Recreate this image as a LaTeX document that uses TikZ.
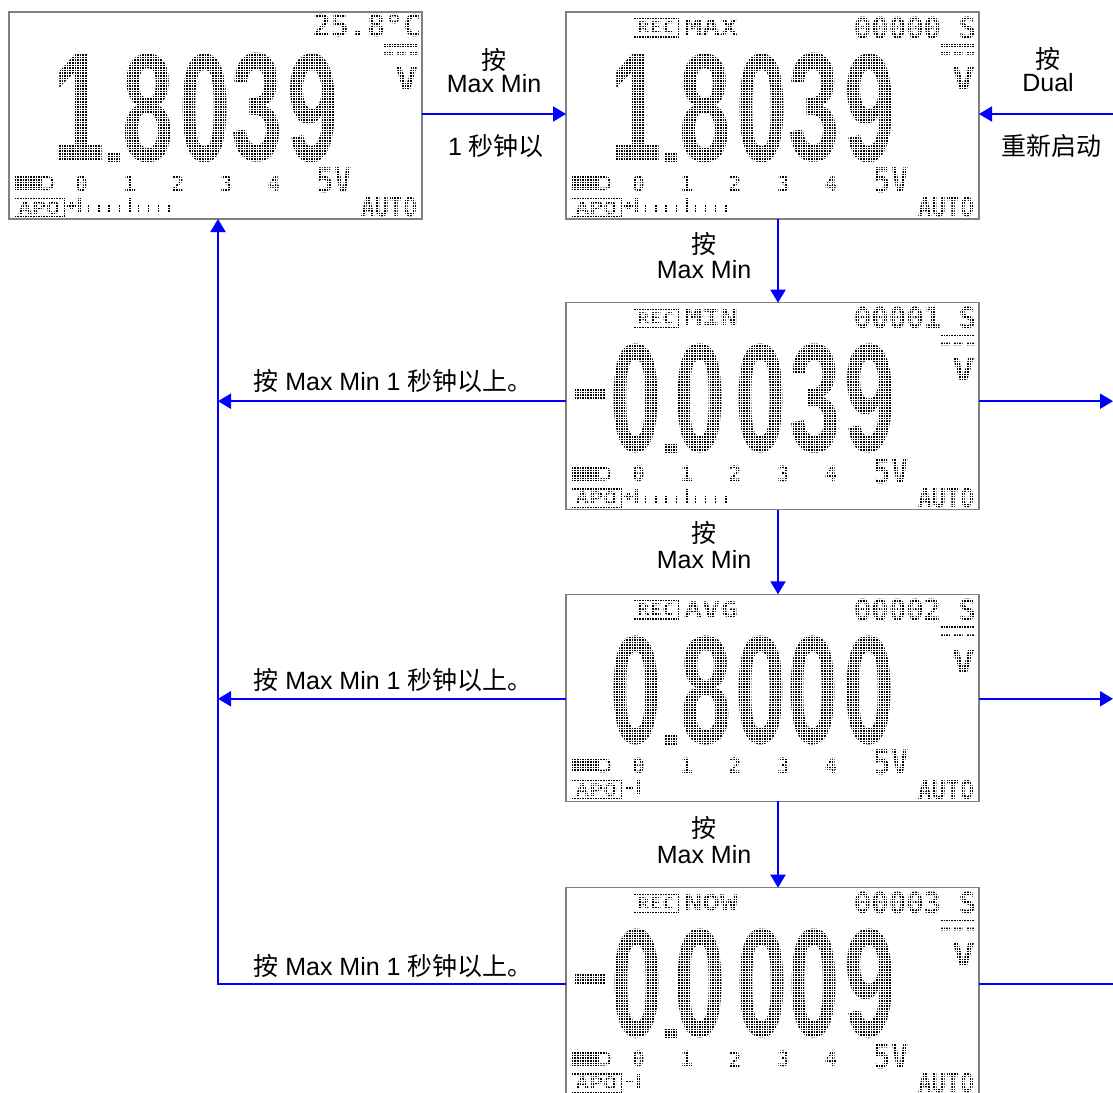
\documentclass[tikz,border=0pt]{standalone}
\usepackage{fontspec}
\usepackage{graphicx}
\setmainfont{Liberation Sans}
\newfontfamily\cjk{Noto Sans CJK SC}
\newfontfamily\lcdfont{DejaVu Sans Mono}
\newfontfamily\digfont{Liberation Sans}
\usetikzlibrary{arrows.meta}
\definecolor{arrowblue}{RGB}{0,0,255}
\definecolor{lcdborder}{RGB}{128,128,128}
\definecolor{dotc}{RGB}{0,0,0}
\tikzset{
  screen/.style={draw=lcdborder, line width=1.5pt, minimum width=413pt, minimum height=207pt,
    anchor=north west, inner sep=0pt, outer sep=0pt},
  arr/.style={draw=arrowblue, line width=2pt, -{Triangle[length=13pt,width=15pt]}},
  plainline/.style={draw=arrowblue, line width=2pt},
  lab/.style={inner sep=0pt, outer sep=0pt, font=\fontsize{25}{30}\selectfont},
  lcdtext/.style={inner sep=0pt, outer sep=0pt, text=dotc},
}
\newcounter{tn}
\newcommand\lcdt[3]{\stepcounter{tn}\node[lcdtext] (t\arabic{tn}) at (#1,#2) {#3};}
\newcommand\bigd[2]{\lcdt{#1}{96}{\digfont\bfseries\fontsize{100}{100}\selectfont\scalebox{0.92}[1.54]{#2}}}
\newcommand\lcdcommon{%
  \fill[dotc] (375,32) rectangle (409,34.6);
  \fill[dotc] (375,40) rectangle (384,42.6) (387.5,40) rectangle (396.5,42.6) (400,40) rectangle (409,42.6);
  \lcdt{397.5}{66.5}{\lcdfont\bfseries\fontsize{31}{31}\selectfont\scalebox{1.25}[1]{V}}
  \fill[dotc] (5,164) rectangle (33,178);
  \draw[dotc, line width=2.4pt, rounded corners=5pt] (33,165.2) -- (44,165.2) -- (44,176.8) -- (33,176.8);
  \lcdt{72.5}{171.5}{\lcdfont\bfseries\fontsize{21}{21}\selectfont 0}
  \lcdt{121}{171.5}{\lcdfont\bfseries\fontsize{21}{21}\selectfont 1}
  \lcdt{169}{171.5}{\lcdfont\bfseries\fontsize{21}{21}\selectfont 2}
  \lcdt{217.5}{171.5}{\lcdfont\bfseries\fontsize{21}{21}\selectfont 3}
  \lcdt{265}{171.5}{\lcdfont\bfseries\fontsize{21}{21}\selectfont 4}
  \lcdt{325}{168.5}{\lcdfont\bfseries\fontsize{34}{34}\selectfont\scalebox{0.85}[1]{5V}}
  \draw[dotc, line width=1.8pt] (5.5,186.5) rectangle (55,205);
  \lcdt{30.25}{195.75}{\resizebox{42pt}{13pt}{\lcdfont\bfseries APO}}
  \lcdt{380}{195.5}{\lcdfont\bfseries\fontsize{26}{26}\selectfont\scalebox{0.9}[1]{AUTO}}
}
\newcommand\lcdbarlong{%
  \fill[dotc] (58,192.5) rectangle (67,195);
  \fill[dotc] (61.3,189) rectangle (63.7,198);
  \fill[dotc] (69,186) rectangle (71.5,200);
  \fill[dotc] (120,186) rectangle (122.5,200);
  \foreach \tx in {80,90,100,110,130,140,150,160}{\fill[dotc] (\tx-1.2,193) rectangle (\tx+1.2,200);}
}
\newcommand\lcdbarshort{%
  \fill[dotc] (59,193) rectangle (67,195.5);
  \fill[dotc] (71,186) rectangle (73.5,201);
}
\newcommand\lcdmode[1]{%
  \draw[dotc, line width=1.8pt] (67.5,6) rectangle (112,25);
  \lcdt{89.75}{15.5}{\resizebox{38pt}{12pt}{\lcdfont\bfseries REC}}
  \lcdt{145}{15}{\resizebox{54pt}{16pt}{\lcdfont\bfseries #1}}
}
\newcommand\lcdcount[1]{\lcdt{349}{15.5}{\lcdfont\bfseries\fontsize{29}{29}\selectfont #1}}
\newcommand\lcddot{\fill[dotc] (99,140) rectangle (111,151);}
\newcommand\lcdminus{\fill[dotc] (9,85) rectangle (40,96);}
\newcommand\lcdgrid{%
  \begin{scope}
    \clip (1.5,1.5) rectangle (411.5,205.5);
    \draw[white, line width=0.65pt, step=2.6pt] (0,0) grid (413,207);
  \end{scope}
}
\begin{document}
\begin{tikzpicture}[x=1pt,y=-1pt]
\useasboundingbox (0,0) rectangle (1113,1092);
\clip (0,0) rectangle (1113,1092);
\fill[white] (0,0) rectangle (1113,1092);

% screens
\node[screen] (s1) at (9,12) {};
\node[screen] (s2) at (566,12) {};
\node[screen] (s3) at (566,302.7) {};
\node[screen] (s4) at (566,594.3) {};
\node[screen] (s5) at (566,887.7) {};

\begin{scope}[shift={(s1.north west)}]
  \lcdcommon \lcdbarlong
  \lcdt{358}{14}{\lcdfont\bfseries\fontsize{30}{30}\selectfont 25.8°C}
  \bigd{70}{1} \lcddot \bigd{139.5}{8} \bigd{196}{0} \bigd{248.5}{3} \bigd{304}{9}
  \lcdgrid
\end{scope}
\begin{scope}[shift={(s2.north west)}]
  \lcdcommon \lcdbarlong \lcdmode{MAX} \lcdcount{00000 S}
  \bigd{70}{1} \lcddot \bigd{139.5}{8} \bigd{196}{0} \bigd{248.5}{3} \bigd{304}{9}
  \lcdgrid
\end{scope}
\begin{scope}[shift={(s3.north west)}]
  \lcdcommon \lcdbarlong \lcdmode{MIN} \lcdcount{00001 S}
  \lcdminus \bigd{70}{0} \lcddot \bigd{134.5}{0} \bigd{195}{0} \bigd{249.5}{3} \bigd{304}{9}
  \lcdgrid
\end{scope}
\begin{scope}[shift={(s4.north west)}]
  \lcdcommon \lcdbarshort \lcdmode{AVG} \lcdcount{00002 S}
  \bigd{70}{0} \lcddot \bigd{140}{8} \bigd{195}{0} \bigd{247}{0} \bigd{303.5}{0}
  \lcdgrid
\end{scope}
\begin{scope}[shift={(s5.north west)}]
  \lcdcommon \lcdbarshort \lcdmode{NOW} \lcdcount{00003 S}
  \lcdminus \bigd{71}{0} \lcddot \bigd{134.5}{0} \bigd{196}{0} \bigd{248.5}{0} \bigd{304.5}{9}
  \lcdgrid
\end{scope}

% helper coordinates
\coordinate (redge) at (1113,0);
\coordinate (colx) at (778,0);
\coordinate (ret) at (218,0);
\coordinate (a12) at ([yshift=1.5pt]s1.east);
\coordinate (a2l) at ([yshift=1.5pt]s2.west);
\coordinate (a2r) at ([yshift=1.5pt]s2.east);
\coordinate (l3) at ([yshift=5pt]s3.west);
\coordinate (l4) at ([yshift=-1pt]s4.west);
\coordinate (l5) at ([yshift=7pt]s5.west);
\coordinate (r3) at ([yshift=5pt]s3.east);
\coordinate (r4) at ([yshift=-1pt]s4.east);
\coordinate (r5) at ([yshift=7pt]s5.east);

% connectors
\draw[arr] (a12) -- (a2l);
\draw[arr] (a2r -| redge) -- (a2r);
\draw[arr] (s2.south -| colx) -- (s3.north -| colx);
\draw[arr] (s3.south -| colx) -- (s4.north -| colx);
\draw[arr] (s4.south -| colx) -- (s5.north -| colx);
\draw[arr] (l3) -- (l3 -| ret);
\draw[arr] (l4) -- (l4 -| ret);
\draw[arr] (l5) -- (l5 -| ret) -- (s1.south -| ret);
\draw[arr] (r3) -- (r3 -| redge);
\draw[arr] (r4) -- (r4 -| redge);
\draw[plainline] (r5) -- (r5 -| redge);

% labels
\node[lab] (m1a) at (494,60) {\cjk 按};
\node[lab] (m1b) at (494,84) {Max Min};
\node[lab] (m1c) at (496,146) {1 {\cjk 秒钟以}};
\node[lab] (d1a) at (1048,59) {\cjk 按};
\node[lab] (d1b) at (1048,83) {Dual};
\node[lab] (d1c) at (1051,146) {\cjk 重新启动};
\node[lab] (v1a) at (704,244) {\cjk 按};
\node[lab] (v1b) at (704,270) {Max Min};
\node[lab] (v2a) at (704,533) {\cjk 按};
\node[lab] (v2b) at (704,560) {Max Min};
\node[lab] (v3a) at (704,828) {\cjk 按};
\node[lab] (v3b) at (704,855) {Max Min};
\node[lab] (h3) at (393,381) {{\cjk 按} Max Min 1 {\cjk 秒钟以上。}};
\node[lab] (h4) at (393,680) {{\cjk 按} Max Min 1 {\cjk 秒钟以上。}};
\node[lab] (h5) at (393,966) {{\cjk 按} Max Min 1 {\cjk 秒钟以上。}};
\end{tikzpicture}
\end{document}
